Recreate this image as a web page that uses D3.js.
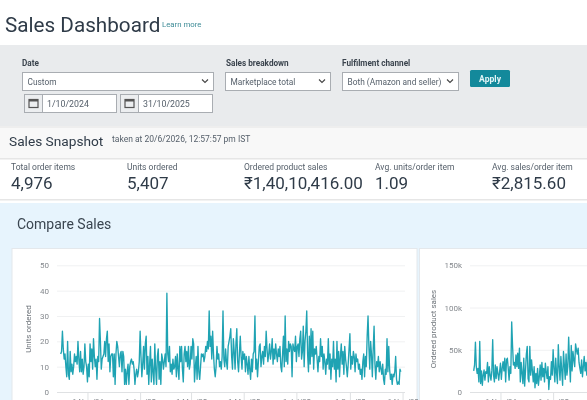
<!DOCTYPE html>
<html>
<head>
<title>Sales Dashboard</title>
<script src="https://d3js.org/d3.v7.min.js"></script>
<style>
html,body{margin:0;padding:0;background:#fff;overflow:hidden}
svg{display:block;filter:blur(0.4px)}
text{font-family:Roboto,"Noto Sans",sans-serif}
</style>
</head>
<body>
<div id="chart"></div>
<script>
// daily values, 1 Oct 2024 onwards
var unitsOrdered = [
15,16,24,17,13,15,10,6,20,7,5,16,8,11,7,10,15,12,14,11,
20,13,8,16,8,13,7,10,19,12,10,4,11,6,19,12,17,9,21,14,
10,13,5,14,12,29,20,9,13,14,15,20,14,21,24,12,19,8,14,15,
15,6,15,3,15,20,18,14,10,15,16,8,16,14,3,9,3,8,11,3,
10,12,13,11,12,9,3,7,9,6,8,12,24,14,6,11,18,9,19,22,
7,14,3,11,18,4,13,8,3,19,9,3,14,17,5,12,3,15,13,9,
12,15,10,39,15,12,18,8,11,7,13,9,10,14,6,15,9,5,18,12,
18,9,4,15,18,12,16,10,18,9,11,18,13,21,19,4,10,14,5,18,
8,5,10,15,14,15,12,14,18,16,20,17,32,18,22,13,24,15,9,6,
10,18,13,15,10,12,9,14,32,13,10,17,12,9,18,20,22,25,14,9,
21,16,9,19,25,12,8,15,22,14,9,16,13,15,8,14,11,7,14,9,
5,13,8,15,16,30,9,13,6,12,18,19,10,14,16,11,18,14,24,17,
12,15,19,13,16,21,11,17,13,19,15,12,17,14,18,10,8,15,22,10,
30,12,17,11,20,16,19,18,6,19,17,16,22,12,18,19,14,21,24,13,
16,26,10,20,24,32,15,8,22,11,25,14,24,9,17,15,18,13,8,14,
12,21,14,18,9,15,12,7,13,11,21,9,15,5,13,10,20,9,13,4,
20,9,16,6,14,19,11,16,7,18,13,10,6,11,17,23,9,14,11,16,
14,8,15,12,13,9,11,7,9,5,12,15,6,14,10,22,30,18,9,20,
15,6,17,26,11,5,12,10,14,8,12,9,7,11,5,3,9,7,21,8,
18,9,5,7,3,7,6,8,14,5,3,4,3,9,8
];
var productSales = [
25000,32000,59000,30000,22000,28000,12000,60000,10000,25000,8000,20000,26000,14000,24000,22000,35000,12000,30000,20000,
14000,25000,62000,20000,12000,32000,16000,30000,22000,14000,24000,34000,15000,28000,36000,25000,40000,12000,38000,40000,
28000,14000,30000,22000,83000,55000,32000,35000,28000,44000,30000,46000,28000,52000,12000,35000,22000,10000,40000,7000,
25000,45000,54000,16000,12000,54000,20000,38000,25000,12000,30000,5000,22000,10000,28000,8000,18000,32000,14000,35000,
18000,28000,12000,34000,24000,16000,30000,3000,18000,15000,36000,20000,50000,28000,12000,40000,22000,10000,56000,30000,
14000,42000,25000,8000,48000,32000,15000,45000,20000,30000,65000,35000,12000,55000,25000,48000,38000,30000,57000,50000,
45000,52000,35000,28000,22000,38000,18000,30000,42000,25000,35000,20000,40000,32000,28000
];
var unitsTicks = [0,10,20,30,40,50];
var salesTicks = [0,50000,100000,150000];
var snapshotLabels = ["Total order items","Units ordered","Ordered product sales","Avg. units/order item","Avg. sales/order item"];
var snapshotValues = ["4,976","5,407","₹1,40,10,416.00","1.09","₹2,815.60"];
var snapshotX = [11,127,244,375,492];

var width = 587, height = 400;
var startDay = new Date(Date.UTC(2024,9,1)), endDay = new Date(Date.UTC(2025,9,31));
var tickDays = [[2024,10],[2025,0],[2025,2],[2025,4],[2025,6],[2025,8],[2025,10]].map(function(d){
	return new Date(Date.UTC(d[0],d[1],1));
});

var svg = d3.select("#chart").append("svg").attr("width",width).attr("height",height);
var dark = "#2f3b48", mid = "#56606b", teal = "#1fa3b3";

function label(x,y,str,size,color,weight){
	return svg.append("text").attr("x",x).attr("y",y).text(str)
		.attr("font-size",size).attr("fill",color).attr("font-weight",weight||400);
}
function box(x,y,w,h,fill,stroke){
	return svg.append("rect").attr("x",x).attr("y",y).attr("width",w).attr("height",h)
		.attr("fill",fill).attr("stroke",stroke||"none");
}
function chevron(x,y){
	svg.append("path").attr("d",d3.line()([[x-3,y-1.5],[x,y+1.5],[x+3,y-1.5]]))
		.attr("fill","none").attr("stroke","#444").attr("stroke-width",1.1);
}
function select(x,y,w,str){
	box(x+.5,y+.5,w,18,"#fff","#a9adb2");
	label(x+5.5,y+12.5,str,8.35,mid);
	chevron(x+w-8,y+9);
}
function dateInput(x,y,str){
	box(x+.5,y+.5,92,18,"#fff","#a9adb2");
	box(x+.5,y+.5,18,18,"#eceef0","#a9adb2");
	box(x+5,y+5.5,9,8,"none","#555").attr("stroke-width",1.2);
	box(x+5,y+5,9,2.5,"#555");
	label(x+23,y+13,str,8.8,mid);
}

// header
label(5,32,"Sales Dashboard",20.7,dark);
label(162,27,"Learn more",7.8,"#3f8c97");

// filter bar
box(0,45,width,81,"#e9ebed");
label(22,66,"Date",8.2,"#3b444e",700);
label(226,66,"Sales breakdown",8.2,"#3b444e",700);
label(342,66,"Fulfilment channel",8.2,"#3b444e",700);
select(22,72,191,"Custom");
select(225,72,105,"Marketplace total");
select(342,72,116,"Both (Amazon and seller)");
dateInput(24,94,"1/10/2024");
dateInput(120,94,"31/10/2025");
box(470,70,40,17,"#13899b").attr("rx",1.5);
label(490,82,"Apply",8.6,"#e4f5f7",700).attr("text-anchor","middle");

// snapshot
box(0,126,width,3,"#eeeeee");
box(0,128,width,30,"#f8f8f8");
box(0,158,width,1.5,"#e6e6e6");
label(9,146,"Sales Snapshot",13.7,dark);
label(112,142,"taken at 20/6/2026, 12:57:57 pm IST",8.5,mid);
snapshotLabels.forEach(function(d,i){
	label(snapshotX[i],170,d,8.5,mid);
	label(snapshotX[i],189,snapshotValues[i],17,dark);
});
box(0,199,width,1.5,"#e6e6e6");

// compare sales panel
box(0,203,width,197,"#e7f4fd");
label(17,229,"Compare Sales",14,"#3a4550");
box(12,248.5,405,160,"#fff","#e4e8ec");
box(419.5,248.5,180,160,"#fff","#e4e8ec");

function drawChart(left,gridLeft,gridRight,lineLeft,values,ticks,domainMax,fmt,title,titleX){
	var x = d3.scaleUtc().domain([startDay,endDay]).range([lineLeft,lineLeft+341]);
	var y = d3.scaleLinear().domain([0,domainMax]).range([392,265.3]);

	var yAxis = svg.append("g").attr("transform","translate("+gridLeft+",0)")
		.call(d3.axisLeft(y).tickValues(ticks).tickSize(0).tickPadding(gridLeft-left).tickFormat(fmt));
	yAxis.select(".domain").remove();
	yAxis.selectAll("text").attr("font-size",8).attr("fill","#85898e").attr("font-family","Roboto,sans-serif");
	yAxis.selectAll(".tick").append("line").attr("x1",0).attr("x2",gridRight-gridLeft)
		.attr("stroke","#f0f1f2").attr("stroke-width",1);

	var xAxis = svg.append("g").attr("transform","translate(0,392)")
		.call(d3.axisBottom(x).tickValues(tickDays).tickSize(8).tickPadding(-1.5)
			.tickFormat(d3.utcFormat("%-d %b '%y")));
	xAxis.select(".domain").attr("stroke","#dfe1e3").attr("d","M"+gridLeft+",0.5H"+gridRight);
	xAxis.selectAll("line").attr("stroke","#dfe1e3");
	xAxis.selectAll("text").attr("font-size",7.5).attr("fill","#85898e").attr("font-family","Roboto,sans-serif");

	svg.append("text").attr("transform","translate("+titleX+",329) rotate(-90)")
		.attr("text-anchor","middle").attr("font-size",8).attr("fill","#6f757b").text(title);

	var line = d3.line()
		.x(function(d,i){ return x(d3.utcDay.offset(startDay,i)); })
		.y(function(d){ return y(d); });
	svg.append("path").datum(values).attr("d",line)
		.attr("fill","none").attr("stroke",teal).attr("stroke-width",1.35).attr("stroke-linejoin","round");
}

drawChart(49,57,405,60.7,unitsOrdered,unitsTicks,50,d3.format("d"),"Units ordered",31);
drawChart(462,470,700,473.7,productSales,salesTicks,150000,function(d){ return d ? (d/1000)+"k" : "0"; },"Ordered product sales",436);
</script>
</body>
</html>
